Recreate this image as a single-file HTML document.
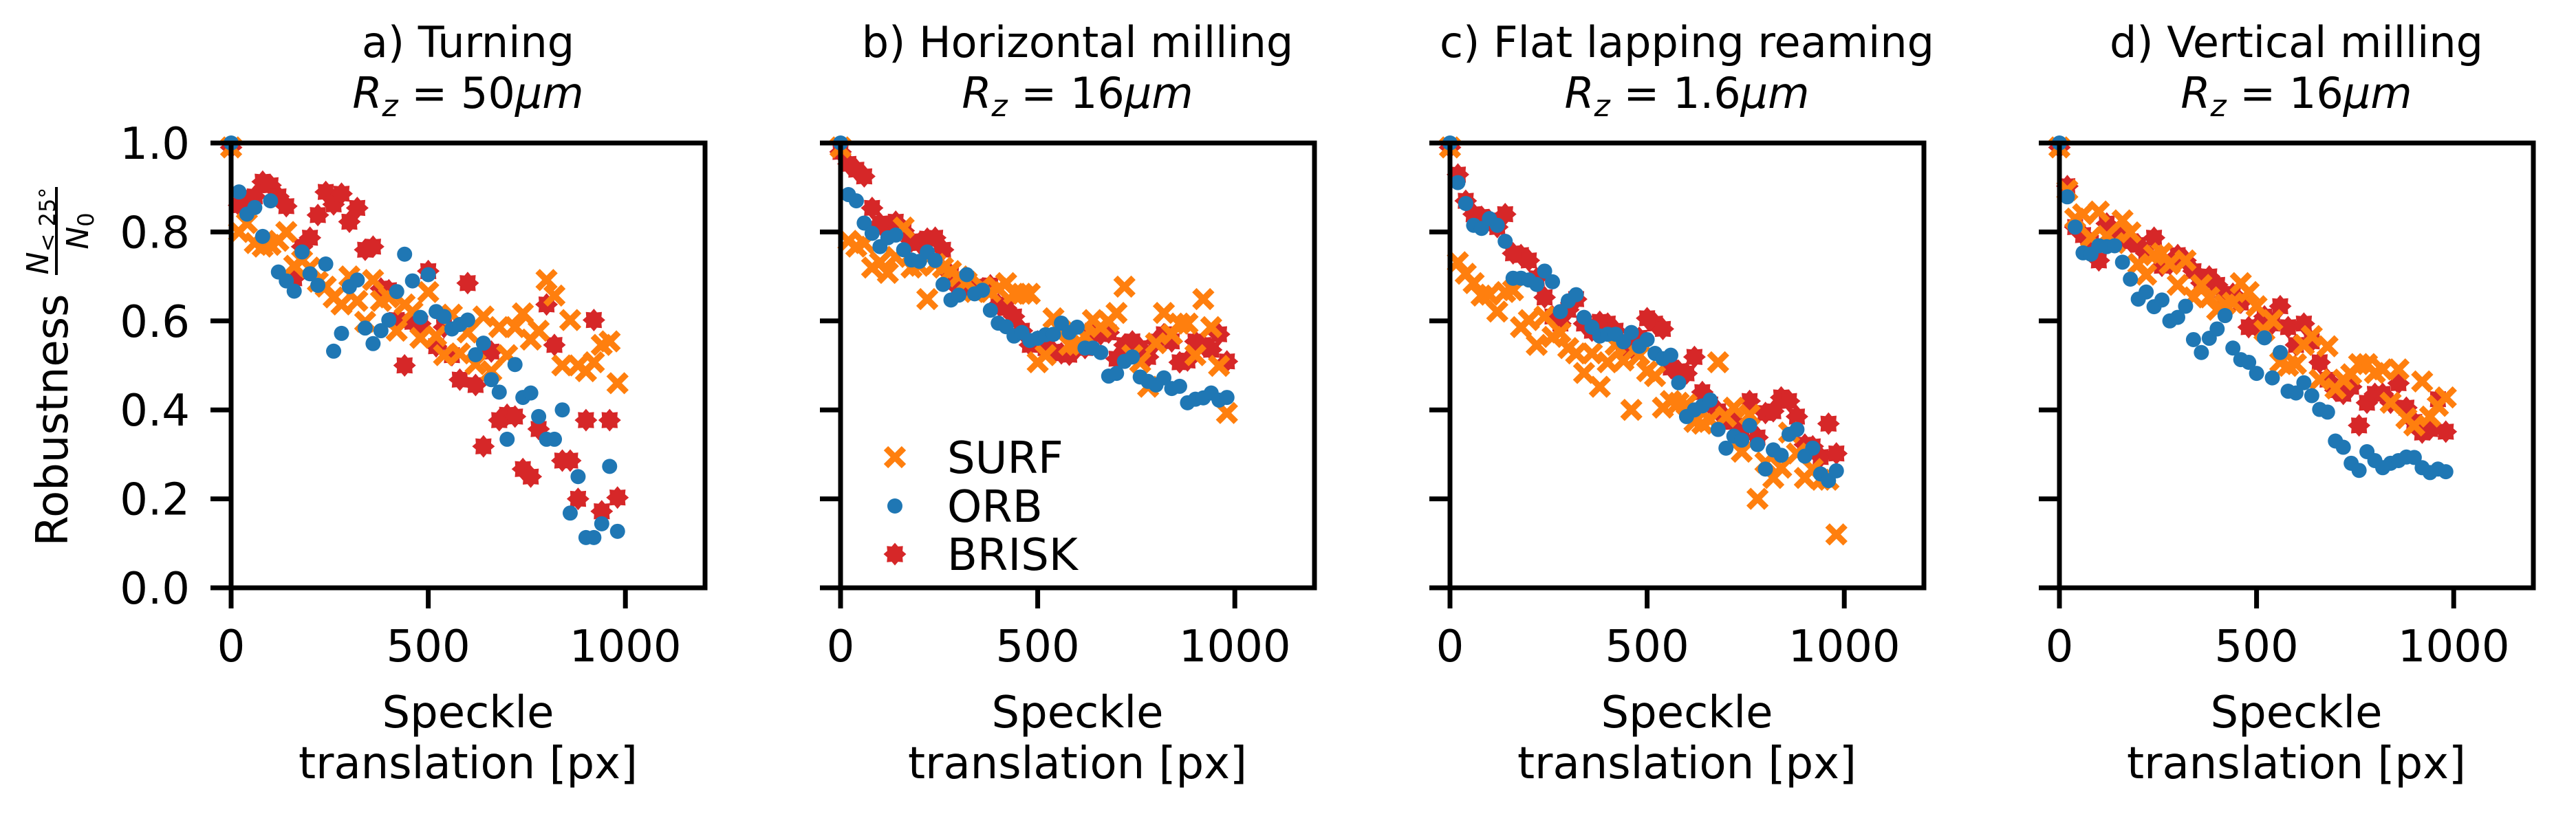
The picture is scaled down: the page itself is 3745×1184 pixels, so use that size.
<!DOCTYPE html>
<html><head><meta charset="utf-8"><style>
html,body{margin:0;padding:0;background:#fff;}
svg{display:block;font-family:"DejaVu Sans","Liberation Sans",sans-serif;}
</style></head><body>
<svg id="fig" xmlns="http://www.w3.org/2000/svg" width="3745" height="1184" viewBox="0 0 3745 1184">
<rect width="3745" height="1184" fill="#fff"/>
<g>
<text x="98" y="611" font-size="64" text-anchor="middle" transform="rotate(-90 98 611)">Robustness</text>
<text x="70" y="336" font-size="44" font-style="italic" text-anchor="middle" transform="rotate(-90 70 336)">N<tspan font-size="32" font-style="normal" dy="10">&lt; 25°</tspan></text>
<line x1="82" y1="272" x2="82" y2="400" stroke="#000" stroke-width="4"/>
<text x="128" y="336" font-size="44" font-style="italic" text-anchor="middle" transform="rotate(-90 128 336)">N<tspan font-size="32" font-style="normal" dy="8">0</tspan></text>
</g>
<g id="panels"></g>
</svg>
<script>
const X = [0,20,40,60,80,100,120,140,160,180,200,220,240,260,280,300,320,340,360,380,400,420,440,460,480,500,520,540,560,580,600,620,640,660,680,700,720,740,760,780,800,820,840,860,880,900,920,940,960,980];
const panelTitles = ["a) Turning","b) Horizontal milling","c) Flat lapping reaming","d) Vertical milling"];
const panelRz = ["50","16","1.6","16"];
const yTicks = [0,0.2,0.4,0.6,0.8,1.0];
const yTickLabels = ["0.0","0.2","0.4","0.6","0.8","1.0"];
const xTicks = [0,500,1000];
const xTickLabels = ["0","500","1000"];
const seriesNames = ["SURF","ORB","BRISK"];

const surfA=[.99,.80,.82,.775,.767,.771,.78,.80,.724,.736,.72,.688,.677,.653,.637,.70,.645,.598,.692,.645,.653,.578,.637,.621,.562,.665,.566,.523,.614,.527,.574,.503,.61,.487,.586,.523,.586,.617,.558,.578,.692,.657,.50,.602,.50,.487,.507,.546,.554,.46];
const orbA=[1.0,.89,.84,.855,.79,.87,.71,.69,.667,.755,.706,.68,.728,.532,.572,.677,.692,.584,.549,.578,.602,.666,.75,.69,.608,.704,.621,.61,.582,.592,.602,.524,.55,.468,.44,.334,.502,.428,.438,.385,.334,.334,.40,.168,.25,.113,.113,.144,.273,.127];
const briskA=[.99,.86,.87,.88,.913,.905,.88,.858,.696,.767,.787,.838,.89,.862,.886,.823,.854,.76,.767,.673,.669,.602,.50,.598,.594,.712,.543,.586,.523,.468,.685,.456,.318,.531,.377,.389,.385,.267,.25,.357,.637,.546,.286,.286,.20,.377,.602,.172,.377,.203];

const surfB=[.99,.78,.767,.775,.72,.732,.708,.744,.81,.72,.724,.649,.728,.72,.712,.70,.688,.665,.677,.665,.673,.685,.661,.661,.661,.507,.523,.606,.578,.546,.546,.566,.602,.586,.598,.618,.677,.523,.507,.452,.55,.618,.57,.594,.594,.523,.649,.586,.499,.393];
const orbB=[1.0,.884,.87,.82,.797,.767,.787,.793,.76,.737,.734,.755,.736,.682,.647,.658,.704,.661,.669,.624,.595,.587,.566,.574,.556,.561,.569,.57,.595,.574,.586,.539,.539,.529,.476,.482,.509,.519,.474,.464,.456,.472,.448,.453,.416,.424,.427,.438,.422,.428];
const briskB=[.98,.953,.94,.925,.854,.819,.81,.823,.803,.779,.775,.785,.787,.76,.704,.673,.669,.677,.673,.68,.637,.629,.61,.578,.546,.554,.539,.531,.527,.524,.539,.539,.578,.57,.574,.515,.546,.554,.539,.519,.554,.57,.554,.507,.511,.554,.546,.535,.57,.509];

const surfC=[.99,.732,.706,.685,.657,.659,.621,.665,.669,.586,.602,.546,.61,.564,.574,.539,.527,.483,.527,.452,.507,.546,.511,.40,.523,.487,.476,.405,.42,.416,.412,.373,.369,.377,.507,.385,.405,.306,.389,.20,.282,.247,.27,.349,.302,.247,.267,.243,.243,.12];
const orbC=[1.0,.911,.864,.815,.808,.83,.815,.779,.696,.696,.692,.682,.712,.688,.621,.645,.659,.608,.586,.566,.57,.57,.553,.574,.543,.558,.527,.515,.523,.461,.385,.40,.409,.422,.356,.314,.341,.332,.365,.322,.267,.31,.298,.345,.356,.296,.314,.256,.241,.263];
const briskC=[.99,.929,.87,.84,.834,.826,.811,.84,.752,.748,.736,.696,.653,.61,.594,.625,.649,.594,.578,.598,.594,.578,.546,.539,.562,.606,.594,.582,.495,.487,.482,.519,.44,.412,.397,.381,.373,.357,.42,.338,.393,.397,.428,.42,.385,.322,.318,.294,.369,.302];

const surfD=[.99,.894,.83,.84,.787,.846,.791,.775,.826,.799,.728,.704,.748,.752,.728,.681,.736,.653,.681,.653,.625,.637,.641,.685,.665,.633,.578,.602,.507,.499,.503,.546,.566,.468,.543,.448,.468,.48,.503,.503,.483,.491,.416,.491,.381,.365,.464,.385,.409,.428];
const orbD=[1.0,.879,.811,.753,.75,.769,.767,.769,.732,.694,.649,.665,.632,.647,.60,.608,.633,.558,.529,.561,.582,.612,.539,.513,.507,.482,.562,.472,.529,.442,.438,.461,.432,.401,.395,.33,.316,.28,.264,.306,.286,.27,.28,.286,.294,.293,.27,.259,.267,.261];
const briskD=[.99,.903,.811,.793,.775,.736,.819,.799,.787,.779,.771,.752,.787,.724,.728,.748,.736,.712,.685,.70,.681,.653,.661,.641,.586,.586,.61,.594,.633,.586,.546,.594,.554,.507,.468,.444,.436,.452,.365,.416,.436,.436,.416,.46,.405,.373,.349,.357,.424,.351];

const panelSurf=[surfA,surfB,surfC,surfD];
const panelOrb=[orbA,orbB,orbC,orbD];
const panelBrisk=[briskA,briskB,briskC,briskD];

const NS="http://www.w3.org/2000/svg";
const root=document.getElementById('panels');
const PL=[336,1222,2108,2994], PW=689, PT=208, PB=855;
const XMAX=1202;
const ORANGE="#ff7f0e", BLUE="#1f77b4", RED="#d62728";
function mk(tag,attrs,parent){const e=document.createElementNS(NS,tag);for(const k in attrs)e.setAttribute(k,attrs[k]);(parent||root).appendChild(e);return e;}
function starPts(cx,cy){let p=[];for(let i=0;i<16;i++){const r=i%2?12:16.5;const a=Math.PI*i/8-Math.PI/2;p.push((cx+r*Math.cos(a)).toFixed(1)+","+(cy+r*Math.sin(a)).toFixed(1));}return p.join(" ");}
function drawX(g,cx,cy){const s=13;mk('path',{d:`M${cx-s},${cy-s}L${cx+s},${cy+s}M${cx-s},${cy+s}L${cx+s},${cy-s}`,stroke:ORANGE,'stroke-width':9,fill:'none'},g);}

for(let p=0;p<4;p++){
  const L=PL[p];
  const sx=v=>L+v/XMAX*PW;
  const sy=v=>PB-v*(PB-PT);
  const g=mk('g',{});
  
  
  const cx=L+PW/2;
  const t1=mk('text',{x:cx,y:83,'font-size':62,'text-anchor':'middle'},g);
  t1.textContent=panelTitles[p];
  
  
  const t2=mk('text',{x:cx,y:157,'font-size':62,'text-anchor':'middle'},g);
  
  
  t2.innerHTML='<tspan font-style="italic">R</tspan><tspan font-style="italic" font-size="44" dy="12">z</tspan><tspan dy="-12"> = '+panelRz[p]+'</tspan><tspan font-style="italic">μm</tspan>';
  const gr=mk('g',{},g);
  
  
  panelBrisk[p].forEach((v,i)=>{const s=mk('polygon',{points:starPts(sx(X[i]),sy(v)),fill:RED},gr);
    
    });
  const go=mk('g',{},g);
  
  
  panelSurf[p].forEach((v,i)=>drawX(go,sx(X[i]),sy(v)));
  const gb=mk('g',{},g);
  
  
  panelOrb[p].forEach((v,i)=>{const c=mk('circle',{cx:sx(X[i]),cy:sy(v),r:11,fill:BLUE},gb);
    
    });
  const fr=mk('rect',{x:L,y:PT,width:PW,height:PB-PT,fill:'none',stroke:'#000','stroke-width':7},g);
  
  
  yTicks.forEach((v,i)=>{
    mk('line',{x1:L-30,y1:sy(v),x2:L,y2:sy(v),stroke:'#000','stroke-width':7},g);
    if(p===0){const t=mk('text',{x:276,y:sy(v)+23,'font-size':64,'text-anchor':'end'},g);t.textContent=yTickLabels[i];
      
      }
  });
  xTicks.forEach((v,i)=>{
    mk('line',{x1:sx(v),y1:PB,x2:sx(v),y2:PB+30,stroke:'#000','stroke-width':7},g);
    const t=mk('text',{x:sx(v),y:962,'font-size':64,'text-anchor':'middle'},g);t.textContent=xTickLabels[i];
    
    
  });
  const xl1=mk('text',{x:cx,y:1058,'font-size':64,'text-anchor':'middle'},g);xl1.textContent='Speckle';
  
  
  const xl2=mk('text',{x:cx,y:1132,'font-size':64,'text-anchor':'middle'},g);xl2.textContent='translation [px]';
  
  
}
const lg=mk('g',{});


const ly=[665,736,806];
drawX(lg,1301,ly[0]);
mk('circle',{cx:1301,cy:ly[1],r:11,fill:BLUE},lg);
mk('polygon',{points:starPts(1301,ly[2]),fill:RED},lg);
seriesNames.forEach((n,i)=>{const t=mk('text',{x:1377,y:ly[i]+23,'font-size':64},lg);t.textContent=n;
  
  });
</script>
</body></html>
